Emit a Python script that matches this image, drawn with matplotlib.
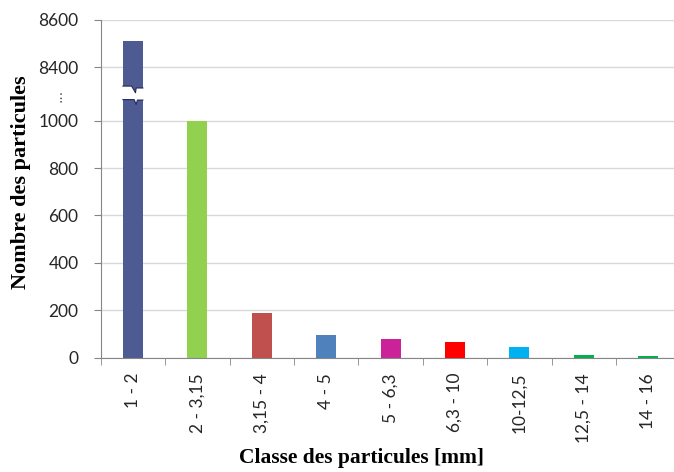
import numpy as np
import matplotlib
matplotlib.use("Agg")
from matplotlib import pyplot as plt
from matplotlib.patches import Polygon

# data
categories = ["1 - 2", "2 - 3,15", "3,15 - 4", "4 - 5", "5 - 6,3",
              "6,3 - 10", "10-12,5", "12,5 - 14", "14 - 16"]
counts = [8510, 1000, 190, 95, 78, 65, 44, 13, 5]
colors = ["#4E5A92", "#92D050", "#C0504D", "#4F81BD", "#CC2299",
          "#FF0000", "#00B0F0", "#00B050", "#00B050"]
y_ticks = [0, 200, 400, 600, 800, 1000, 8400, 8600]

# broken axis: values above the break are shifted down
BREAK = 1100
SHIFT = 7175


def to_axis(v):
    return v if v <= BREAK else v - SHIFT


fig = plt.figure(figsize=(6.74, 4.72), dpi=100)
ax = fig.add_axes([0.1494, 0.2422, 0.8603, 0.7155])

x = np.arange(len(categories))
heights = [to_axis(v) for v in counts]
w = 0.31
ax.bar(x, heights, width=w, color=colors, zorder=3)

# break marks on the first bar
hw = w / 2
gap = Polygon([(-hw - 0.01, 1146), (-0.02, 1146), (0.04, 1118), (0.05, 1138),
               (hw + 0.01, 1138), (hw + 0.01, 1087), (0.07, 1087),
               (0.05, 1068), (0.02, 1089), (-hw - 0.01, 1089)],
              closed=True, facecolor="white", edgecolor="none", zorder=4)
ax.add_patch(gap)
ax.plot([-hw, -0.02, 0.04, 0.05, hw], [1146, 1146, 1118, 1138, 1138],
        color="#1F2A5A", lw=0.8, zorder=5)
ax.plot([-hw, 0.02, 0.05, 0.07, hw], [1089, 1089, 1068, 1087, 1087],
        color="#1F2A5A", lw=0.8, zorder=5)

ax.set_xlim(-0.5, len(categories) - 0.5)
ax.set_ylim(0, to_axis(8600))

tick_font = dict(family="Lato", size=12.5, color="#262626")
ax.set_yticks([to_axis(v) for v in y_ticks])
ax.set_yticklabels([str(v) for v in y_ticks], fontdict=tick_font)
ax.set_xticks(x)
ax.set_xticklabels(categories, rotation=90, fontdict=tick_font)
ax.set_xticks(np.arange(len(categories) + 1) - 0.5, minor=True)

ax.tick_params(axis="x", which="major", length=0, pad=11)
ax.tick_params(axis="x", which="minor", length=5, color="#868686", direction="out")
ax.tick_params(axis="y", length=5, color="#868686", pad=11)

ax.grid(axis="y", color="#D9D9D9", lw=1, zorder=0)
for side in ["top", "right"]:
    ax.spines[side].set_visible(False)
for side in ["left", "bottom"]:
    ax.spines[side].set_color("#868686")
    ax.spines[side].set_zorder(4)

# dots marking the axis break
ax.text(-0.075, 1108, "...", transform=ax.get_yaxis_transform(),
        rotation=90, ha="center", va="center", fontsize=10, color="#595959")

label_font = dict(family="Liberation Serif", weight="bold")
fig.text(0.536, 0.03, "Classe des particules [mm]", ha="center", va="center",
         size=15.5, **label_font)
fig.text(0.031, 0.614, "Nombre des particules", rotation=90, ha="center",
         va="center", size=16, **label_font)

fig.savefig("out.png", dpi=100)
